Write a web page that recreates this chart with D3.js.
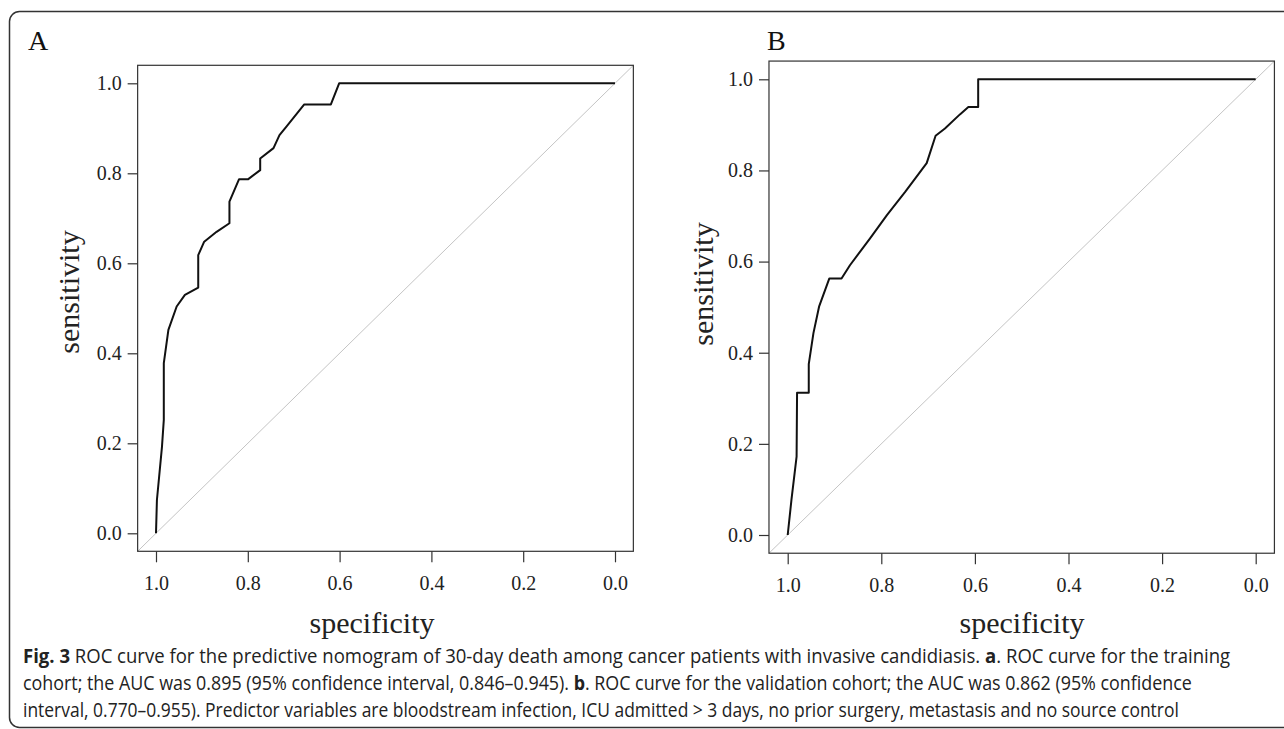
<!DOCTYPE html>
<html>
<head>
<meta charset="utf-8">
<script src="https://cdn.jsdelivr.net/npm/d3@7"></script>
<style>
  html, body { margin: 0; padding: 0; background: #fff; }
  svg { display: block; }
</style>
</head>
<body>
<svg id="chart" width="1284" height="729"></svg>
<script>
// ---- Data ----
const tickValues = [0, 0.2, 0.4, 0.6, 0.8, 1.0];
const tickLabels = ["0.0", "0.2", "0.4", "0.6", "0.8", "1.0"];
const panelLabels = ["A", "B"];
const xTitle = "specificity";
const yTitle = "sensitivity";

// Panel A (training cohort) ROC curve
const specA = [1.000, 0.998, 0.987, 0.983, 0.983, 0.973, 0.955, 0.937, 0.908, 0.908, 0.895, 0.868, 0.840, 0.840, 0.819, 0.799, 0.773, 0.773, 0.744, 0.731, 0.715, 0.677, 0.619, 0.601, 0.000];
const sensA = [0.000, 0.074, 0.192, 0.252, 0.378, 0.452, 0.504, 0.530, 0.546, 0.618, 0.648, 0.670, 0.689, 0.737, 0.787, 0.787, 0.807, 0.833, 0.856, 0.885, 0.905, 0.953, 0.953, 1.000, 1.000];

// Panel B (validation cohort) ROC curve
const specB = [1.000, 0.992, 0.981, 0.980, 0.955, 0.955, 0.945, 0.933, 0.911, 0.885, 0.867, 0.824, 0.788, 0.749, 0.703, 0.684, 0.664, 0.632, 0.614, 0.593, 0.593, 0.000];
const sensB = [0.000, 0.077, 0.172, 0.312, 0.312, 0.375, 0.443, 0.501, 0.563, 0.563, 0.592, 0.651, 0.702, 0.753, 0.816, 0.876, 0.892, 0.923, 0.939, 0.939, 1.000, 1.000];

const captionLines = [
  [["b", "Fig. 3"], ["n", " ROC curve for the predictive nomogram of 30-day death among cancer patients with invasive candidiasis. "], ["b", "a"], ["n", ". ROC curve for the training"]],
  [["n", "cohort; the AUC was 0.895 (95% confidence interval, 0.846\u20130.945). "], ["b", "b"], ["n", ". ROC curve for the validation cohort; the AUC was 0.862 (95% confidence"]],
  [["n", "interval, 0.770\u20130.955). Predictor variables are bloodstream infection, ICU admitted > 3 days, no prior surgery, metastasis and no source control"]]
];

// ---- Layout ----
const svg = d3.select("#chart");
const serif = "'Liberation Serif', 'Times New Roman', serif";

// outer rounded frame
svg.append("rect")
  .attr("x", 9.5).attr("y", 11.5)
  .attr("width", 1300).attr("height", 716)
  .attr("rx", 10).attr("ry", 10)
  .attr("fill", "none").attr("stroke", "#333").attr("stroke-width", 1.5);

const panels = [
  { label: panelLabels[0], spec: specA, sens: sensA,
    x0: 156, x1: 615, y0: 533.3, y1: 83.3,
    labelX: 28, xtitleX: 372, ytitleX: 79, ytitleY: 292 },
  { label: panelLabels[1], spec: specB, sens: sensB,
    x0: 787.7, x1: 1255.7, y0: 535, y1: 79.3,
    labelX: 767, xtitleX: 1022, ytitleX: 713, ytitleY: 284 }
];

panels.forEach((p, i) => {
  const x = d3.scaleLinear().domain([1, 0]).range([p.x0, p.x1]);
  const y = d3.scaleLinear().domain([0, 1]).range([p.y0, p.y1]);
  const bx0 = x(1.04), bx1 = x(-0.04), by0 = y(-0.04), by1 = y(1.04);
  const g = svg.append("g");

  const clipId = "clip" + i;
  svg.append("clipPath").attr("id", clipId)
    .append("rect").attr("x", bx0).attr("y", by1).attr("width", bx1 - bx0).attr("height", by0 - by1);

  // diagonal reference line
  g.append("line")
    .attr("clip-path", `url(#${clipId})`)
    .attr("x1", x(1.04)).attr("y1", y(-0.04))
    .attr("x2", x(-0.04)).attr("y2", y(1.04))
    .attr("stroke", "#c4c4c4").attr("stroke-width", 1);

  // ROC curve
  const pts = p.spec.map((s, k) => [s, p.sens[k]]);
  g.append("path")
    .datum(pts)
    .attr("d", d3.line().x(d => x(d[0])).y(d => y(d[1])))
    .attr("fill", "none").attr("stroke", "#111").attr("stroke-width", 2)
    .attr("stroke-linejoin", "round");

  // box
  g.append("rect")
    .attr("x", bx0).attr("y", by1).attr("width", bx1 - bx0).attr("height", by0 - by1)
    .attr("fill", "none").attr("stroke", "#333").attr("stroke-width", 1.2);

  // axes
  const fmt = (d) => tickLabels[tickValues.indexOf(d)];
  const xAxis = g.append("g").attr("transform", `translate(0,${by0})`)
    .call(d3.axisBottom(x).tickValues(tickValues).tickFormat(fmt).tickSize(11).tickPadding(14));
  const yAxis = g.append("g").attr("transform", `translate(${bx0},0)`)
    .call(d3.axisLeft(y).tickValues(tickValues).tickFormat(fmt).tickSize(10).tickPadding(6));
  [xAxis, yAxis].forEach(a => {
    a.select(".domain").remove();
    a.selectAll(".tick line").attr("stroke", "#333").attr("stroke-width", 1.2);
    a.selectAll(".tick text").attr("fill", "#222").style("font-family", serif).style("font-size", "20px");
  });

  // titles
  g.append("text")
    .attr("x", p.xtitleX).attr("y", 633)
    .attr("text-anchor", "middle")
    .style("font-family", serif).style("font-size", "30px").attr("fill", "#222")
    .text(xTitle);
  g.append("text")
    .attr("transform", `translate(${p.ytitleX},${p.ytitleY}) rotate(-90)`)
    .attr("text-anchor", "middle")
    .style("font-family", serif).style("font-size", "30px").attr("fill", "#222")
    .text(yTitle);

  // panel label
  g.append("text")
    .attr("x", p.labelX).attr("y", 50)
    .style("font-family", serif).style("font-size", "28px").attr("fill", "#111")
    .text(p.label);
});

// caption
const capX = 23;
const capBaselines = [663, 690, 717];
const capRight = [1231, 1193, 1179];
captionLines.forEach((line, i) => {
  const t = svg.append("text")
    .attr("x", 0).attr("y", 0)
    .style("font-family", "'Open Sans', 'Noto Sans', sans-serif")
    .style("font-size", "19.5px").attr("fill", "#222");
  line.forEach(([w, s]) => {
    t.append("tspan").attr("font-weight", w === "b" ? 700 : 400).text(s);
  });
  const bb = t.node().getBBox();
  const sx = (capRight[i] - capX) / bb.width;
  t.attr("transform", `translate(${capX - bb.x * sx},${capBaselines[i]}) scale(${sx},1)`);
});
</script>
</body>
</html>
